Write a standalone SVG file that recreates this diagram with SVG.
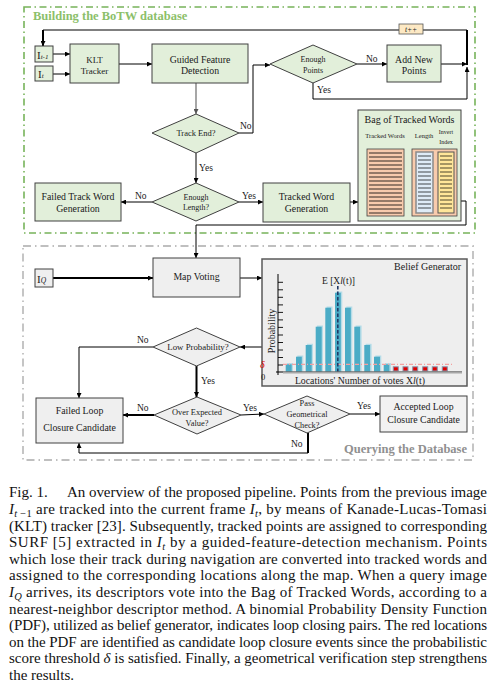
<svg xmlns="http://www.w3.org/2000/svg" width="496" height="698" viewBox="0 0 496 698">
<defs>
<marker id="a" viewBox="0 0 10 10" refX="10" refY="5" markerWidth="5" markerHeight="5" markerUnits="userSpaceOnUse" orient="auto"><path d="M0,0 L10,5 L0,10 z" fill="#000"/></marker>
<marker id="ag" viewBox="0 0 10 10" refX="10" refY="5" markerWidth="5" markerHeight="5" markerUnits="userSpaceOnUse" orient="auto"><path d="M0,0 L10,5 L0,10 z" fill="#555"/></marker>
<marker id="as" viewBox="0 0 10 10" refX="0" refY="5" markerWidth="5" markerHeight="5" markerUnits="userSpaceOnUse" orient="auto"><path d="M10,0 L0,5 L10,10 z" fill="#000"/></marker>
</defs>
<style>
.t{font-family:"Liberation Serif","Times New Roman",serif;fill:#1a1a1a}
.n{font-size:9.8px;text-anchor:middle}
.d{font-size:8.3px;text-anchor:middle}
.l{font-size:9.5px}
.g{fill:#e2efda;stroke:#404040;stroke-width:1}
.q{fill:#efefef;stroke:#404040;stroke-width:1}
.c{fill:none;stroke:#000;stroke-width:1}
.k{fill:none;stroke:#000;stroke-width:2}
.cap{font-family:"Liberation Serif","Times New Roman",serif;font-size:15px;fill:#111}
.i{font-style:italic}
.bar{fill:#4bacc6}
.bsh{fill:#b5dce8}
</style>
<rect width="496" height="698" fill="#fff"/>

<!-- frames -->
<g id="frame-build">
<rect x="24" y="7" width="451" height="226" fill="none" stroke="#77b35a" stroke-width="1.6" stroke-dasharray="7 3.5 1.5 3.5"/>
<text class="t" x="33" y="20" style="font-size:12.5px;font-weight:bold;fill:#8cbf6a">Building the BoTW database</text>
</g>
<g id="frame-query">
<rect x="23" y="246" width="450" height="214" fill="none" stroke="#bfbfbf" stroke-width="1.8" stroke-dasharray="8 4 1.5 4"/>
<text class="t" x="467" y="453" text-anchor="end" style="font-size:12.5px;font-weight:bold;fill:#909090">Querying the Database</text>
</g>

<!-- connectors -->
<g id="connectors">
<line class="c" x1="53" y1="54" x2="70" y2="54" marker-end="url(#a)"/>
<line class="c" x1="53" y1="74" x2="70" y2="74" marker-end="url(#a)"/>
<line class="c" x1="119" y1="64" x2="152" y2="64" marker-end="url(#a)"/>
<line x1="196" y1="83" x2="196" y2="114" stroke="#777" stroke-width="1.3" marker-end="url(#ag)"/>
<polyline class="c" points="239,133 253,133 253,65 270,65" marker-end="url(#a)"/>
<line class="c" x1="357" y1="64" x2="387" y2="64" marker-end="url(#a)"/>
<line class="c" x1="441" y1="64" x2="467" y2="64" marker-end="url(#a)"/>
<polyline class="c" points="313,83 313,99 467,99 467,67" marker-end="url(#a)"/>
<line class="k" x1="467" y1="65" x2="467" y2="30"/>
<polyline class="c" points="467,30 43,30"/>
<line class="k" x1="43" y1="30" x2="43" y2="46" marker-end="url(#a)"/>
<line class="c" x1="196" y1="153" x2="196" y2="183" marker-end="url(#a)"/>
<line class="c" x1="152" y1="202" x2="121" y2="202" marker-end="url(#a)"/>
<line class="c" x1="239" y1="202" x2="263" y2="202" marker-end="url(#a)"/>
<line class="c" x1="350" y1="202" x2="358" y2="202" marker-end="url(#a)"/>
<line class="c" x1="405" y1="182" x2="411" y2="182" marker-start="url(#as)" marker-end="url(#a)"/>
<polyline class="c" points="461,201 466,201 466,225 196,225 196,258" marker-end="url(#a)"/>
<line class="k" x1="53" y1="278" x2="153" y2="278" marker-end="url(#a)"/>
<line class="c" x1="240" y1="278" x2="262" y2="278" marker-end="url(#a)"/>
<line class="c" x1="262" y1="347" x2="240" y2="347" marker-end="url(#a)"/>
<polyline class="c" points="153,347 79,347 79,398" marker-end="url(#a)"/>
<line class="k" x1="196.5" y1="366" x2="196.5" y2="397" marker-end="url(#a)"/>
<line class="k" x1="154" y1="415" x2="123" y2="415" marker-end="url(#a)"/>
<line class="c" x1="241" y1="415" x2="264" y2="414" marker-end="url(#a)"/>
<line class="c" x1="350" y1="414" x2="380" y2="414" marker-end="url(#a)"/>
<line class="k" x1="308" y1="433" x2="308" y2="453"/>
<polyline class="c" points="308,453 79,453 79,443" marker-end="url(#a)"/>
<g class="t l">
<text x="366" y="62">No</text>
<text x="317" y="93">Yes</text>
<text x="240" y="129">No</text>
<text x="199" y="171">Yes</text>
<text x="135" y="199">No</text>
<text x="242" y="199">Yes</text>
<text x="137" y="343">No</text>
<text x="201" y="384">Yes</text>
<text x="137" y="411">No</text>
<text x="243" y="411">Yes</text>
<text x="357" y="409">Yes</text>
<text x="291" y="447">No</text>
</g>
</g>

<!-- nodes: building -->
<g id="n-it1">
<rect class="g" x="35" y="46" width="18" height="16"/>
<text class="t" x="37" y="58.5" style="font-size:11px">I<tspan class="i" style="font-size:7px">t-1</tspan></text>
</g>
<g id="n-it">
<rect class="g" x="35" y="66" width="18" height="15"/>
<text class="t" x="38" y="78" style="font-size:11px">I<tspan class="i" style="font-size:7px">t</tspan></text>
</g>
<g id="n-klt">
<rect class="g" x="70" y="44" width="49" height="39"/>
<text class="t n" x="94.5" y="62.5" style="font-size:9px">KLT</text>
<text class="t n" x="94.5" y="74" style="font-size:9px">Tracker</text>
</g>
<g id="n-gfd">
<rect class="g" x="152" y="44" width="96" height="39"/>
<text class="t n" x="200" y="62.5">Guided Feature</text>
<text class="t n" x="200" y="74">Detection</text>
</g>
<g id="n-ep">
<polygon class="g" points="270,64 313,45 357,64 313,83"/>
<text class="t d" x="313" y="62" style="font-size:8px">Enough</text>
<text class="t d" x="313" y="72.5" style="font-size:8px">Points</text>
</g>
<g id="n-anp">
<rect class="g" x="387" y="45" width="54" height="37"/>
<text class="t n" x="414" y="62.5">Add New</text>
<text class="t n" x="414" y="74">Points</text>
</g>
<g id="n-tpp">
<rect x="399" y="24" width="24" height="10" fill="#fde9c4" stroke="#555" stroke-width="0.8"/>
<text class="t i" x="411" y="31.8" text-anchor="middle" style="font-size:7.5px">t++</text>
</g>
<g id="n-te">
<polygon class="g" points="152,133 196,114 239,133 196,153"/>
<text class="t d" x="196" y="136" style="font-size:8.5px">Track End?</text>
</g>
<g id="n-el">
<polygon class="g" points="152,202 196,183 239,202 196,221"/>
<text class="t d" x="196" y="200" style="font-size:8px">Enough</text>
<text class="t d" x="196" y="209.5" style="font-size:8px">Length?</text>
</g>
<g id="n-ftw">
<rect class="g" x="35" y="183" width="86" height="38"/>
<text class="t n" x="78" y="200">Failed Track Word</text>
<text class="t n" x="78" y="211.7">Generation</text>
</g>
<g id="n-tw">
<rect class="g" x="263" y="183" width="87" height="39"/>
<text class="t n" x="306.5" y="200">Tracked Word</text>
<text class="t n" x="306.5" y="211.7">Generation</text>
</g>
<g id="n-botw">
<rect class="g" x="358" y="110" width="103" height="111"/>
<text class="t n" x="409.5" y="123.3" style="font-size:10px">Bag of Tracked Words</text>
<text class="t n" x="385" y="138" style="font-size:6.5px">Tracked Words</text>
<text class="t n" x="424" y="138" style="font-size:6.5px">Length</text>
<text class="t n" x="446" y="134" style="font-size:6px">Invert</text>
<text class="t n" x="446" y="143.5" style="font-size:6px">Index</text>
<rect x="367" y="149" width="37" height="67" fill="#f8cbad" stroke="#404040" stroke-width="0.8"/>
<path d="M369,153h33M369,157h33M369,161h33M369,165h33M369,169h33M369,173h33M369,177h33M369,181h33M369,185h33M369,189h33M369,193h33M369,197h33M369,201h33M369,205h33M369,209h33M369,213h33" stroke="#000" stroke-width="0.8"/>
<rect x="412" y="149" width="45" height="67" fill="#f8cbad" stroke="#404040" stroke-width="0.8"/>
<rect x="416" y="152" width="17" height="61" fill="#deebf7" stroke="#8a8a8a" stroke-width="1.5"/>
<rect x="438" y="152" width="16" height="61" fill="#ffe699" stroke="#555" stroke-width="1"/>
<path d="M418,156h13M418,160h13M418,164h13M418,168h13M418,172h13M418,176h13M418,180h13M418,184h13M418,188h13M418,192h13M418,196h13M418,200h13M418,204h13M418,208h13M440,156h12M440,160h12M440,164h12M440,168h12M440,172h12M440,176h12M440,180h12M440,184h12M440,188h12M440,192h12M440,196h12M440,200h12M440,204h12M440,208h12" stroke="#000" stroke-width="0.7"/>
</g>

<!-- nodes: querying -->
<g id="n-iq">
<rect class="q" x="35" y="269" width="18" height="18"/>
<text class="t" x="37" y="283" style="font-size:11px">I<tspan class="i" style="font-size:7.5px">Q</tspan></text>
</g>
<g id="n-mv">
<rect class="q" x="153" y="258" width="87" height="39"/>
<text class="t n" x="196.5" y="279.5">Map Voting</text>
</g>
<g id="n-bg">
<rect x="262" y="259" width="205" height="127" fill="#eeeeee" stroke="#595959" stroke-width="1.5"/>
<text class="t" x="461" y="270" text-anchor="end" style="font-size:10px">Belief Generator</text>
<g>
<rect class="bsh" x="287" y="363" width="6" height="9"/>
<rect class="bsh" x="297.3" y="355.5" width="6" height="16.5"/>
<rect class="bsh" x="307" y="343.8" width="6" height="28.2"/>
<rect class="bsh" x="317" y="325.5" width="6" height="46.5"/>
<rect class="bsh" x="326.6" y="306.5" width="6" height="65.5"/>
<rect class="bsh" x="336.3" y="291.5" width="6" height="80.5"/>
<rect class="bsh" x="346.3" y="306.5" width="6" height="65.5"/>
<rect class="bsh" x="355.6" y="325.5" width="6" height="46.5"/>
<rect class="bsh" x="365.6" y="343.8" width="6" height="28.2"/>
<rect class="bsh" x="375.3" y="355.5" width="6" height="16.5"/>
<rect class="bsh" x="385" y="363" width="6" height="9"/>
<rect class="bar" x="285.7" y="364.3" width="6" height="7.7"/>
<rect class="bar" x="296" y="356.7" width="5.8" height="15.3"/>
<rect class="bar" x="305.7" y="345" width="6" height="27"/>
<rect class="bar" x="315.7" y="326.7" width="6" height="45.3"/>
<rect class="bar" x="325.3" y="307.7" width="5.8" height="64.3"/>
<rect class="bar" x="335" y="292.7" width="5.8" height="79.3"/>
<rect class="bar" x="345" y="307.7" width="5.8" height="64.3"/>
<rect class="bar" x="354.3" y="326.7" width="5.8" height="45.3"/>
<rect class="bar" x="364.3" y="345" width="5.8" height="27"/>
<rect class="bar" x="374" y="356.7" width="6" height="15.3"/>
<rect class="bar" x="383.7" y="364.3" width="5.7" height="7.7"/>
</g>
<line x1="283" y1="364.3" x2="454" y2="364.3" stroke="#f4a0a0" stroke-width="1.3" stroke-dasharray="4 2 1 2"/>
<g fill="#e00000" stroke="#8497b0" stroke-width="1">
<rect x="393.3" y="366.8" width="5" height="4.2"/>
<rect x="403" y="366.8" width="5" height="4.2"/>
<rect x="412.7" y="366.8" width="5" height="4.2"/>
<rect x="422.7" y="366.8" width="5" height="4.2"/>
<rect x="432.3" y="366.8" width="5" height="4.2"/>
<rect x="442.3" y="366.8" width="5" height="4.2"/>
</g>
<line x1="337.8" y1="286" x2="337.8" y2="372" stroke="#1f3864" stroke-width="1.6" stroke-dasharray="3.5 2"/>
<line x1="276" y1="372" x2="462" y2="372" stroke="#000" stroke-width="1"/>
<line x1="283" y1="372.5" x2="462" y2="372.5" stroke="#a6a6a6" stroke-width="2.2"/>
<line x1="278" y1="274" x2="278" y2="375" stroke="#000" stroke-width="1"/>
<path d="M278,282.3h5M278,289.8h5M278,297.3h5M278,304.9h5M278,312.4h5M278,319.9h5M278,327.4h5M278,335h5M278,342.5h5M278,350h5M278,357.5h5M278,365h5" stroke="#000" stroke-width="0.9"/>
<text class="t" x="322" y="284" style="font-size:9.5px">E [X<tspan class="i">l</tspan>(t)]</text>
<text class="t" transform="translate(275,331) rotate(-90)" text-anchor="middle" style="font-size:10px">Probability</text>
<text class="t i" x="260" y="368" style="font-size:10px;fill:#e00000">δ</text>
<text class="t" x="261" y="380" style="font-size:8.5px">0</text>
<text class="t" x="360" y="384" text-anchor="middle" style="font-size:9.8px">Locations' Number of votes X<tspan class="i">l</tspan>(t)</text>
</g>
<g id="n-lp">
<polygon class="q" points="153,347 196.5,328 240,347 196.5,366"/>
<text class="t d" x="198" y="350" style="font-size:8.8px">Low Probability?</text>
</g>
<g id="n-flc">
<rect class="q" x="36" y="398" width="87" height="45"/>
<text class="t n" x="79.5" y="414">Failed Loop</text>
<text class="t n" x="79.5" y="431">Closure Candidate</text>
</g>
<g id="n-oev">
<polygon class="q" points="154,415 197,397 241,415 197,434"/>
<text class="t d" x="197" y="415" style="font-size:8.4px">Over Expected</text>
<text class="t d" x="197" y="425.5" style="font-size:8.4px">Value?</text>
</g>
<g id="n-pgc">
<polygon class="q" points="264,414 307,396 350,414 307,433"/>
<text class="t d" x="307" y="406">Pass</text>
<text class="t d" x="307" y="417">Geometrical</text>
<text class="t d" x="307" y="427.5">Check?</text>
</g>
<g id="n-alc">
<rect class="q" x="380" y="396" width="87" height="36" style="fill:#f2f2f2"/>
<text class="t n" x="423.5" y="410">Accepted Loop</text>
<text class="t n" x="423.5" y="422.5">Closure Candidate</text>
</g>

<!-- caption -->
<g id="caption">
<text class="cap" x="9" y="497.3">Fig. 1.</text>
<text class="cap" x="67" y="497.3" textLength="420" lengthAdjust="spacing">An overview of the proposed pipeline. Points from the previous image</text>
<text class="cap" x="9" y="513.9" textLength="478" lengthAdjust="spacing"><tspan class="i">I</tspan><tspan class="i" style="font-size:10.5px" dy="3">t </tspan><tspan style="font-size:10.5px">−1</tspan><tspan dy="-3"> are tracked into the current frame </tspan><tspan class="i">I</tspan><tspan class="i" style="font-size:10.5px" dy="3">t</tspan><tspan dy="-3">, by means of Kanade-Lucas-Tomasi</tspan></text>
<text class="cap" x="9" y="530.5" textLength="478" lengthAdjust="spacing">(KLT) tracker [23]. Subsequently, tracked points are assigned to corresponding</text>
<text class="cap" x="9" y="547.1" textLength="478" lengthAdjust="spacing">SURF [5] extracted in <tspan class="i">I</tspan><tspan class="i" style="font-size:10.5px" dy="3">t</tspan><tspan dy="-3"> by a guided-feature-detection mechanism. Points</tspan></text>
<text class="cap" x="9" y="563.7" textLength="478" lengthAdjust="spacing">which lose their track during navigation are converted into tracked words and</text>
<text class="cap" x="9" y="580.3" textLength="478" lengthAdjust="spacing">assigned to the corresponding locations along the map. When a query image</text>
<text class="cap" x="9" y="596.9" textLength="478" lengthAdjust="spacing"><tspan class="i">I</tspan><tspan class="i" style="font-size:10.5px" dy="3">Q</tspan><tspan dy="-3"> arrives, its descriptors vote into the Bag of Tracked Words, according to a</tspan></text>
<text class="cap" x="9" y="613.5" textLength="478" lengthAdjust="spacing">nearest-neighbor descriptor method. A binomial Probability Density Function</text>
<text class="cap" x="9" y="630.1" textLength="478" lengthAdjust="spacing">(PDF), utilized as belief generator, indicates loop closing pairs. The red locations</text>
<text class="cap" x="9" y="646.7" textLength="478" lengthAdjust="spacing">on the PDF are identified as candidate loop closure events since the probabilistic</text>
<text class="cap" x="9" y="663.3" textLength="478" lengthAdjust="spacing">score threshold <tspan class="i">δ</tspan> is satisfied. Finally, a geometrical verification step strengthens</text>
<text class="cap" x="9" y="679.9">the results.</text>
</g>
</svg>
